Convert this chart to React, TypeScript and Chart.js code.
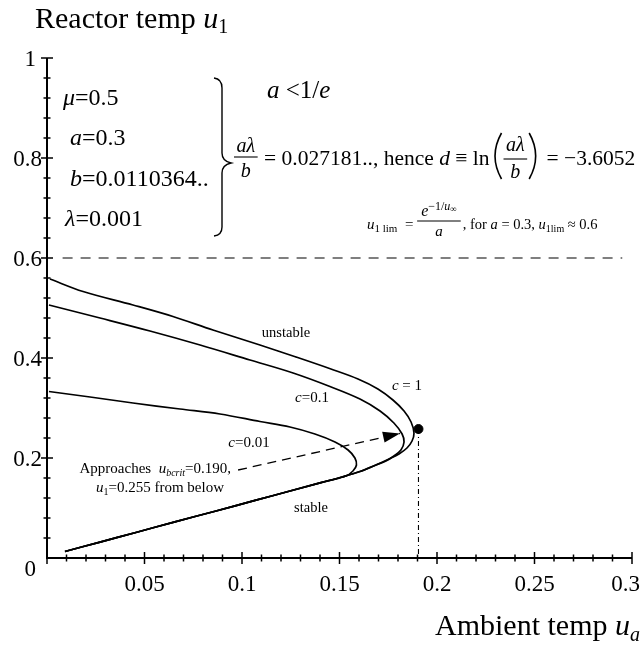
import React, { useEffect, useRef } from 'react';
import { Chart, registerables } from 'chart.js';

Chart.register(...registerables);

// ---- axis ticks ----
const xTickValues = [0.05, 0.1, 0.15, 0.2, 0.25, 0.3];
const xTickLabels = ['0.05', '0.1', '0.15', '0.2', '0.25', '0.3'];
const yTickValues = [0, 0.2, 0.4, 0.6, 0.8, 1];
const yTickLabels = ['0', '0.2', '0.4', '0.6', '0.8', '1'];
const xMinorCount = 30; // minor ticks every 0.01 on [0, 0.3]
const yMinorCount = 25; // minor ticks every 0.04 on [0, 1]

// ---- curves (ambient temp u_a, reactor temp u_1) ----
// common stable (lower) branch, from the nose region down to the lower left
const stableUa = [0.1605, 0.1513, 0.14, 0.1246, 0.1067, 0.0862, 0.0656, 0.0451, 0.0272, 0.0092];
const stableU1 = [0.173, 0.162, 0.1502, 0.134, 0.1152, 0.0936, 0.0722, 0.0506, 0.0318, 0.013];

// c = 1 : unstable branch, nose and return to the stable branch
const c1Ua = [0.0015, 0.0185, 0.0441, 0.0646, 0.0851, 0.1092, 0.1277, 0.1456, 0.1595, 0.1697, 0.1774, 0.1831, 0.1867, 0.1882, 0.1872, 0.1846, 0.1805, 0.1754, 0.1687];
const c1U1 = [0.558, 0.533, 0.506, 0.483, 0.456, 0.426, 0.402, 0.378, 0.358, 0.338, 0.316, 0.294, 0.272, 0.25, 0.234, 0.22, 0.208, 0.198, 0.186];

// c = 0.1
const c01Ua = [0.001, 0.0272, 0.0528, 0.0785, 0.1041, 0.1262, 0.1451, 0.1605, 0.1708, 0.1779, 0.1821, 0.1831, 0.1815, 0.1779, 0.1738, 0.1687];
const c01U1 = [0.506, 0.48, 0.454, 0.426, 0.396, 0.37, 0.343, 0.318, 0.294, 0.27, 0.248, 0.232, 0.216, 0.204, 0.194, 0.186];

// c = 0.01
const c001Ua = [0.001, 0.0221, 0.0441, 0.0682, 0.0887, 0.1092, 0.1246, 0.1374, 0.1477, 0.1544, 0.1579, 0.1587, 0.1569, 0.1533];
const c001U1 = [0.333, 0.322, 0.31, 0.298, 0.288, 0.273, 0.262, 0.248, 0.232, 0.216, 0.2, 0.186, 0.174, 0.164];

// ---- reference marks ----
const limitUa = [0.008, 0.295];
const limitU1 = [0.6, 0.6];
const critUa = [0.1905];
const critU1 = [0.258];
const arrowUa = [0.098, 0.181];
const arrowU1 = [0.176, 0.249];

const SERIF = '"Liberation Serif", "Times New Roman", Times, serif';

type Seg = { t: string; s: number; i?: boolean; dy?: number };

function fnt(s: number, i?: boolean) {
  return `${i ? 'italic ' : ''}${s}px ${SERIF}`;
}
function segWidth(ctx: CanvasRenderingContext2D, segs: Seg[]) {
  let w = 0;
  for (const g of segs) {
    ctx.font = fnt(g.s, g.i);
    w += ctx.measureText(g.t).width;
  }
  return w;
}
function drawSegs(ctx: CanvasRenderingContext2D, segs: Seg[], x: number, y: number, align: 'left' | 'center' | 'right' = 'left') {
  const w = segWidth(ctx, segs);
  let cx = align === 'left' ? x : align === 'center' ? x - w / 2 : x - w;
  ctx.textAlign = 'left';
  ctx.textBaseline = 'alphabetic';
  for (const g of segs) {
    ctx.font = fnt(g.s, g.i);
    ctx.fillText(g.t, cx, y + (g.dy || 0));
    cx += ctx.measureText(g.t).width;
  }
  return cx;
}
function seg(ctx: CanvasRenderingContext2D, x1: number, y1: number, x2: number, y2: number) {
  ctx.beginPath();
  ctx.moveTo(x1, y1);
  ctx.lineTo(x2, y2);
  ctx.stroke();
}

const pts = (xs: number[], ys: number[]) => xs.map((x, k) => ({ x, y: ys[k] }));

const annotations = {
  id: 'annotations',
  afterDraw(chart: any) {
    const ctx: CanvasRenderingContext2D = chart.ctx;
    const xs = chart.scales.x;
    const ys = chart.scales.y;
    const X = (v: number) => xs.getPixelForValue(v);
    const Y = (v: number) => ys.getPixelForValue(v);
    ctx.save();
    ctx.fillStyle = '#000';
    ctx.strokeStyle = '#000';

    // arrow head
    {
      const x1 = X(arrowUa[0]), y1 = Y(arrowU1[0]);
      const x2 = X(arrowUa[1]), y2 = Y(arrowU1[1]);
      const a = Math.atan2(y2 - y1, x2 - x1);
      const L = 17, H = 5.5;
      ctx.beginPath();
      ctx.moveTo(x2, y2);
      ctx.lineTo(x2 - L * Math.cos(a) + H * Math.sin(a), y2 - L * Math.sin(a) - H * Math.cos(a));
      ctx.lineTo(x2 - L * Math.cos(a) - H * Math.sin(a), y2 - L * Math.sin(a) + H * Math.cos(a));
      ctx.closePath();
      ctx.fill();
    }

    // axes
    const x0 = X(0), y0 = Y(0);
    ctx.lineWidth = 2;
    seg(ctx, x0, Y(1), x0, y0 + 1);
    seg(ctx, x0 - 1, y0, X(0.3), y0);
    ctx.lineWidth = 1.5;
    for (let k = 1; k <= yMinorCount; k++) {
      const yy = Y(k / yMinorCount);
      const L = k % 5 === 0 ? 6 : 3.5;
      seg(ctx, x0 - L, yy, x0 + L, yy);
    }
    for (let k = 0; k <= xMinorCount; k++) {
      const xx = X((0.3 * k) / xMinorCount);
      const L = k % 5 === 0 ? 6 : 3.5;
      seg(ctx, xx, y0 - L, xx, y0 + L);
    }

    // tick labels
    ctx.fillStyle = '#000';
    ctx.textBaseline = 'alphabetic';
    yTickValues.forEach((v, k) => {
      const lab = yTickLabels[k];
      ctx.font = fnt(23);
      ctx.textAlign = 'right';
      if (v === 0) ctx.fillText(lab, x0 - 11, y0 + 18);
      else if (v === 1) ctx.fillText(lab, x0 - 11, Y(v) + 8);
      else ctx.fillText(lab, x0 - 5, Y(v) + 8);
    });
    xTickValues.forEach((v, k) => {
      const lab = xTickLabels[k];
      ctx.font = fnt(23);
      const w = ctx.measureText(lab).width;
      let cx = X(v);
      if (cx + w / 2 > chart.width - 2) cx = chart.width - 2 - w / 2;
      ctx.textAlign = 'center';
      ctx.fillText(lab, cx, y0 + 33);
    });

    // axis titles
    drawSegs(ctx, [{ t: 'Reactor temp ', s: 30 }, { t: 'u', s: 30, i: true }, { t: '1', s: 20, dy: 5 }], 35, 28, 'left');
    drawSegs(ctx, [{ t: 'Ambient temp ', s: 30 }, { t: 'u', s: 30, i: true }, { t: 'a', s: 20, i: true, dy: 6 }], 640, 635, 'right');

    // parameter block
    drawSegs(ctx, [{ t: 'μ', s: 24, i: true }, { t: '=0.5', s: 24 }], 63, 105);
    drawSegs(ctx, [{ t: 'a', s: 24, i: true }, { t: '=0.3', s: 24 }], 70, 145);
    drawSegs(ctx, [{ t: 'b', s: 24, i: true }, { t: '=0.0110364..', s: 24 }], 70, 186);
    drawSegs(ctx, [{ t: 'λ', s: 24, i: true }, { t: '=0.001', s: 24 }], 65, 226);

    // brace
    ctx.lineWidth = 1.4;
    ctx.beginPath();
    ctx.moveTo(214, 78);
    ctx.quadraticCurveTo(222, 79, 222, 88);
    ctx.lineTo(222, 153);
    ctx.quadraticCurveTo(222, 161, 231, 163);
    ctx.quadraticCurveTo(222, 165, 222, 173);
    ctx.lineTo(222, 227);
    ctx.quadraticCurveTo(222, 235, 214, 236);
    ctx.stroke();

    // a < 1/e
    drawSegs(ctx, [{ t: 'a', s: 25, i: true }, { t: ' <1/', s: 25 }, { t: 'e', s: 25, i: true }], 267, 98);

    // fraction aλ/b
    const frac = (cx: number, top: number, line: number, bot: number, s: number, num: string, den: string) => {
      ctx.font = fnt(s, true);
      const nw = ctx.measureText(num).width;
      const fw = nw + 5;
      ctx.textAlign = 'center';
      ctx.fillText(num, cx + fw / 2, top);
      ctx.fillText(den, cx + fw / 2, bot);
      ctx.lineWidth = 1.1;
      seg(ctx, cx, line, cx + fw, line);
      return cx + fw;
    };
    let cx = frac(234, 152, 157, 177, 20, 'aλ', 'b');
    cx = drawSegs(ctx, [{ t: ' = 0.027181.., hence ', s: 21.5 }, { t: 'd', s: 21.5, i: true }, { t: ' ≡ ln', s: 21.5 }], cx + 1, 165);
    ctx.lineWidth = 1.6;
    ctx.beginPath();
    ctx.moveTo(cx + 12, 133);
    ctx.quadraticCurveTo(cx - 1, 156, cx + 12, 179);
    ctx.stroke();
    cx = frac(cx + 14, 151, 159, 178, 20, 'aλ', 'b');
    ctx.lineWidth = 1.6;
    ctx.beginPath();
    ctx.moveTo(cx + 2, 133);
    ctx.quadraticCurveTo(cx + 15, 156, cx + 2, 179);
    ctx.stroke();
    drawSegs(ctx, [{ t: ' = −3.6052', s: 21.5 }], cx + 14, 165);

    // u1 lim formula
    let ux = drawSegs(ctx, [{ t: 'u', s: 15, i: true }, { t: '1 lim', s: 11, dy: 3 }, { t: '  = ', s: 15 }], 367, 229);
    const num: Seg[] = [{ t: 'e', s: 16, i: true }, { t: '−1/', s: 12, dy: -6 }, { t: 'u', s: 12, i: true, dy: -6 }, { t: '∞', s: 9, dy: -4 }];
    const nw = segWidth(ctx, num);
    drawSegs(ctx, num, ux + 4, 216);
    ctx.lineWidth = 1;
    seg(ctx, ux, 221, ux + nw + 8, 221);
    drawSegs(ctx, [{ t: 'a', s: 15, i: true }], ux + (nw + 8) / 2, 236, 'center');
    ux += nw + 10;
    drawSegs(ctx, [
      { t: ', for ', s: 14.5 }, { t: 'a', s: 14.5, i: true }, { t: ' = 0.3, ', s: 14.5 },
      { t: 'u', s: 14.5, i: true }, { t: '1lim', s: 10, dy: 3 }, { t: ' ≈ 0.6', s: 14.5 },
    ], ux, 229);

    // curve labels
    drawSegs(ctx, [{ t: 'unstable', s: 14.5 }], 286, 337, 'center');
    drawSegs(ctx, [{ t: 'c', s: 15, i: true }, { t: '=0.1', s: 15 }], 312, 402, 'center');
    drawSegs(ctx, [{ t: 'c', s: 15, i: true }, { t: ' = 1', s: 15 }], 407, 390, 'center');
    drawSegs(ctx, [{ t: 'c', s: 15, i: true }, { t: '=0.01', s: 15 }], 249, 447, 'center');
    drawSegs(ctx, [{ t: 'stable', s: 14.5 }], 311, 512, 'center');
    drawSegs(ctx, [{ t: 'Approaches  ', s: 15 }, { t: 'u', s: 15, i: true }, { t: 'bcrit', s: 10, i: true, dy: 3 }, { t: '=0.190,', s: 15 }], 231, 473, 'right');
    drawSegs(ctx, [{ t: 'u', s: 15, i: true }, { t: '1', s: 10, dy: 3 }, { t: '=0.255 from below', s: 15 }], 224, 492, 'right');

    ctx.restore();
  },
};

export default function App() {
  const ref = useRef<HTMLCanvasElement>(null);
  useEffect(() => {
    const canvas = ref.current!;
    const line = { showLine: true, borderColor: '#000', borderWidth: 1.7, pointRadius: 0, tension: 0.35, fill: false };
    const chart = new Chart(canvas, {
      type: 'scatter',
      data: {
        datasets: [
          { ...line, data: pts(c1Ua.concat(stableUa), c1U1.concat(stableU1)) },
          { ...line, data: pts(c01Ua.concat(stableUa), c01U1.concat(stableU1)) },
          { ...line, data: pts(c001Ua.concat(stableUa.slice(2)), c001U1.concat(stableU1.slice(2))) },
          { showLine: true, borderColor: '#000', borderWidth: 1.2, borderDash: [10, 8], pointRadius: 0, data: pts(limitUa, limitU1) },
          { showLine: true, borderColor: '#000', borderWidth: 1.1, borderDash: [5, 3, 1, 3], pointRadius: 0, data: pts([critUa[0], critUa[0]], [critU1[0], 0]) },
          { showLine: true, borderColor: '#000', borderWidth: 1.3, borderDash: [9, 6], pointRadius: 0, data: pts(arrowUa, arrowU1) },
          { showLine: false, pointRadius: 4.5, pointBackgroundColor: '#000', pointBorderColor: '#000', data: pts(critUa, critU1) },
        ] as any,
      },
      options: {
        responsive: false,
        animation: false,
        devicePixelRatio: 1,
        layout: { padding: { left: 47, right: 10, top: 58, bottom: 91 } },
        scales: {
          x: { type: 'linear', min: 0, max: 0.3, display: false },
          y: { type: 'linear', min: 0, max: 1, display: false },
        },
        plugins: { legend: { display: false }, tooltip: { enabled: false } },
      } as any,
      plugins: [annotations],
    });
    return () => chart.destroy();
  }, []);
  return (
    <div style={{ position: 'absolute', left: 0, top: 0, width: 642, height: 649, background: '#fff' }}>
      <canvas ref={ref} width={642} height={649} style={{ display: 'block' }} />
    </div>
  );
}
